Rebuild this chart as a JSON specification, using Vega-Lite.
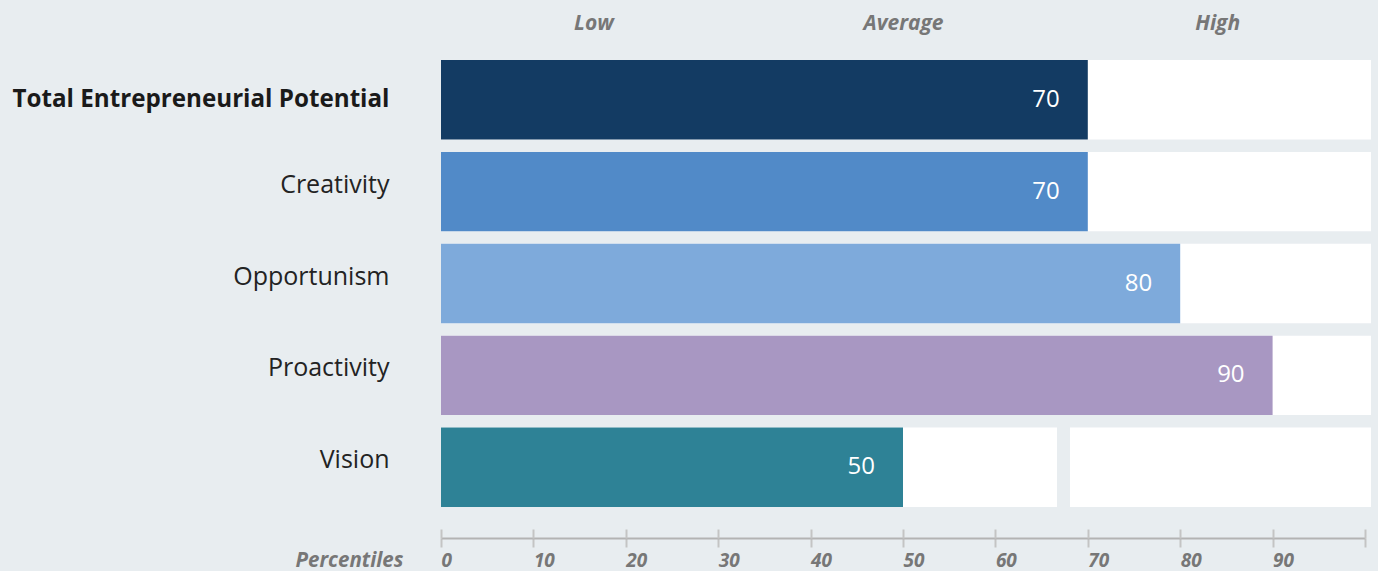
{
  "$schema": "https://vega.github.io/schema/vega-lite/v6.json",
  "width": 924,
  "height": 447,
  "autosize": "none",
  "padding": {"left": 441, "top": 60, "right": 13, "bottom": 64},
  "background": "#e8edf0",
  "config": {
    "view": {"stroke": null},
    "font": "Open Sans"
  },
  "datasets": {
    "scores": [
      {"factor": "Total Entrepreneurial Potential", "percentile": 70},
      {"factor": "Creativity", "percentile": 70},
      {"factor": "Opportunism", "percentile": 80},
      {"factor": "Proactivity", "percentile": 90},
      {"factor": "Vision", "percentile": 50}
    ],
    "tracks": [
      {"factor": "Total Entrepreneurial Potential", "from": 0, "to": 100.65},
      {"factor": "Creativity", "from": 0, "to": 100.65},
      {"factor": "Opportunism", "from": 0, "to": 100.65},
      {"factor": "Proactivity", "from": 0, "to": 100.65},
      {"factor": "Vision", "from": 0, "to": 66.67},
      {"factor": "Vision", "from": 68.07, "to": 100.65}
    ]
  },
  "encoding": {
    "y": {
      "field": "factor",
      "type": "nominal",
      "sort": ["Total Entrepreneurial Potential", "Creativity", "Opportunism", "Proactivity", "Vision"],
      "scale": {"paddingInner": 0.135, "paddingOuter": 0},
      "axis": {
        "title": null,
        "domain": false,
        "ticks": false,
        "labelPadding": 52,
        "labelFont": "Open Sans",
        "labelBaseline": "alphabetic",
        "labelLimit": 500,
        "labelFontSize": {"condition": {"test": "datum.value == 'Total Entrepreneurial Potential'", "value": 24.2}, "value": 25},
        "labelOffset": {"condition": {"test": "datum.value == 'Total Entrepreneurial Potential'", "value": 7}, "value": 1},
        "labelColor": {"condition": {"test": "datum.value == 'Total Entrepreneurial Potential'", "value": "#1a1a1a"}, "value": "#232323"},
        "labelFontWeight": {"condition": {"test": "datum.value == 'Total Entrepreneurial Potential'", "value": "bold"}, "value": "normal"}
      }
    }
  },
  "layer": [
    {
      "data": {"name": "tracks"},
      "mark": {"type": "bar", "color": "#ffffff"},
      "encoding": {
        "x": {
          "field": "from",
          "type": "quantitative",
          "scale": {"domain": [0, 100], "nice": false, "zero": true},
          "axis": {
            "orient": "bottom",
            "offset": 31,
            "values": [0, 10, 20, 30, 40, 50, 60, 70, 80, 90, 100],
            "labelExpr": "datum.value == 100 ? '' : datum.label",
            "grid": false,
            "domainColor": "#b3b3b3",
            "domainWidth": 2,
            "tickColor": "#c4c4c4",
            "tickWidth": 2,
            "tickSize": 9,
            "labelAlign": "left",
            "labelBaseline": "alphabetic",
            "labelPadding": 19,
            "labelFont": "Open Sans",
            "labelFontSize": 19,
            "labelFontStyle": "italic",
            "labelFontWeight": "bold",
            "labelColor": "#777777",
            "title": "Percentiles",
            "titleFont": "Open Sans",
            "titleFontSize": 20.5,
            "titleFontStyle": "italic",
            "titleFontWeight": "bold",
            "titleColor": "#777777",
            "titleAlign": "right",
            "titleBaseline": "alphabetic",
            "titleAngle": 0,
            "titleX": -38,
            "titleY": 28
          }
        },
        "x2": {"field": "to"}
      }
    },
    {
      "data": {"name": "scores"},
      "mark": {"type": "bar"},
      "encoding": {
        "x": {
          "field": "percentile",
          "type": "quantitative",
          "axis": {
            "orient": "bottom",
            "offset": 22,
            "values": [0, 10, 20, 30, 40, 50, 60, 70, 80, 90, 100],
            "domain": false,
            "labels": false,
            "grid": false,
            "tickColor": "#c4c4c4",
            "tickWidth": 2,
            "tickSize": 9,
            "title": null
          }
        },
        "color": {
          "field": "factor",
          "type": "nominal",
          "legend": null,
          "scale": {
            "domain": ["Total Entrepreneurial Potential", "Creativity", "Opportunism", "Proactivity", "Vision"],
            "range": ["#133b63", "#518ac8", "#7eaadb", "#a897c2", "#2e8296"]
          }
        }
      }
    },
    {
      "data": {"name": "scores"},
      "mark": {
        "type": "text",
        "align": "right",
        "baseline": "middle",
        "dx": -28,
        "color": "#ffffff",
        "font": "Open Sans",
        "fontSize": 24
      },
      "encoding": {
        "x": {
          "field": "percentile",
          "type": "quantitative",
          "axis": {
            "orient": "top",
            "values": [16.5, 50, 84],
            "labelExpr": "datum.value < 30 ? 'Low' : datum.value < 60 ? 'Average' : 'High'",
            "domain": false,
            "ticks": false,
            "grid": false,
            "labelAlign": "center",
            "labelBaseline": "middle",
            "labelPadding": 37,
            "labelFont": "Open Sans",
            "labelFontSize": 21,
            "labelFontStyle": "italic",
            "labelFontWeight": "bold",
            "labelColor": "#777777",
            "title": null
          }
        },
        "text": {"field": "percentile", "type": "quantitative"}
      }
    }
  ],
  "resolve": {"axis": {"x": "independent"}}
}
